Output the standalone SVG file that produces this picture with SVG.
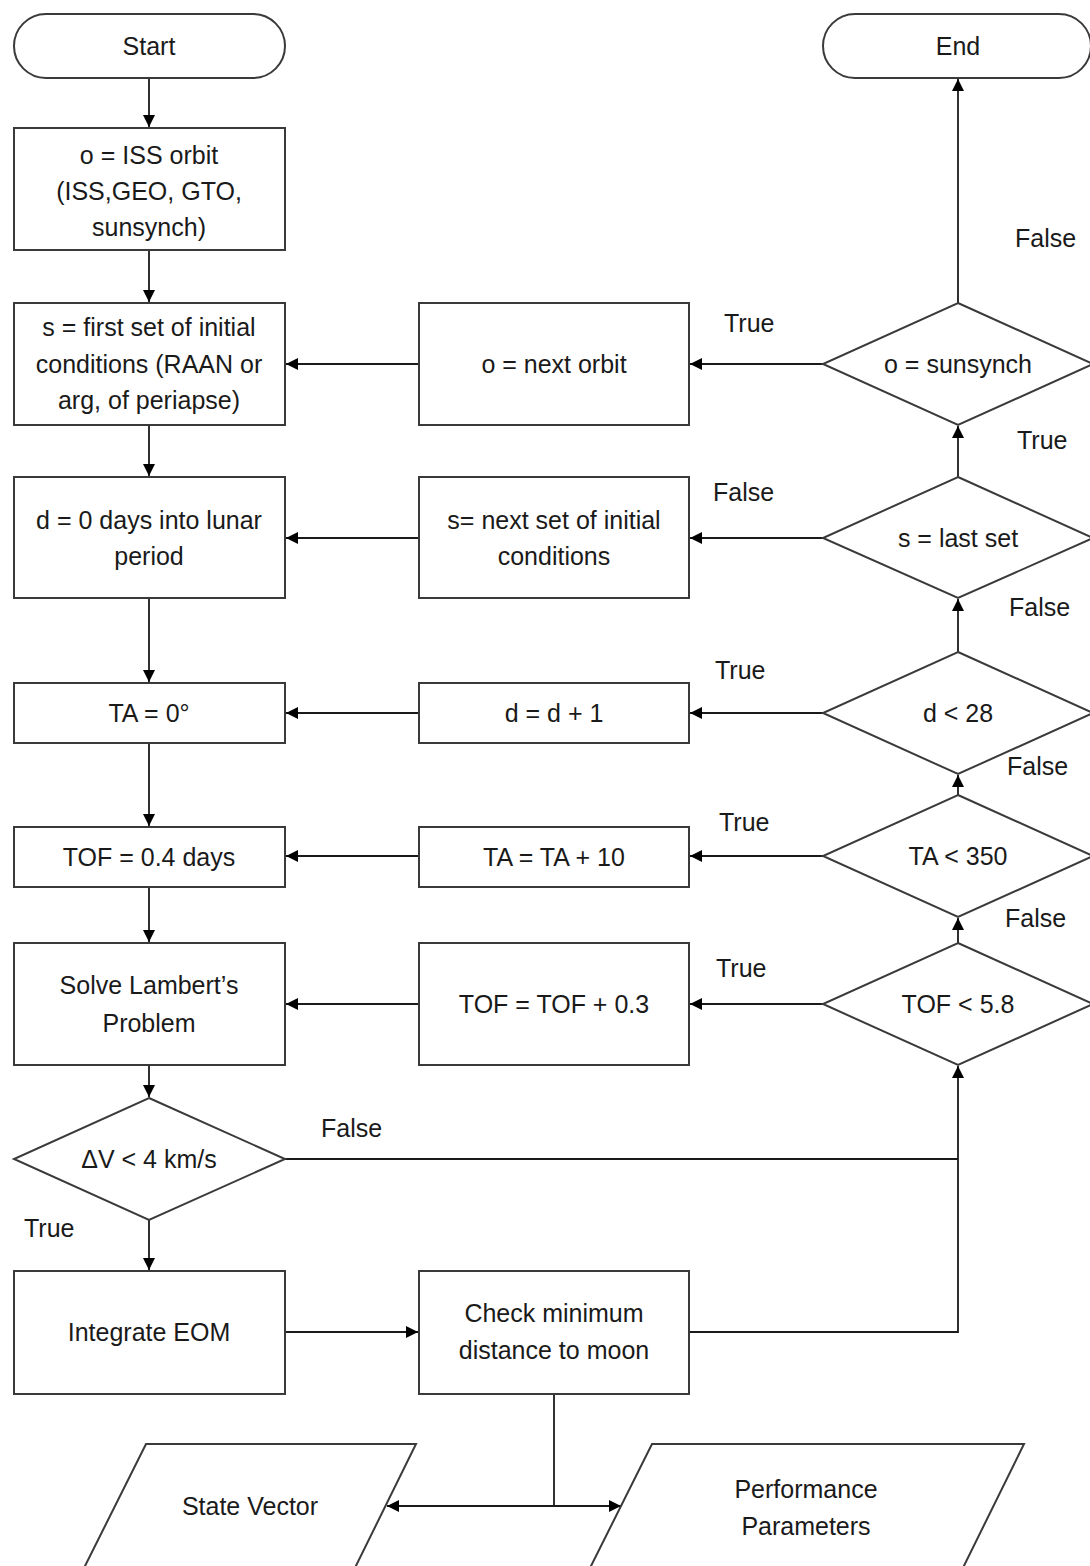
<svg xmlns="http://www.w3.org/2000/svg" width="1090" height="1566" viewBox="0 0 1090 1566">
<style>
  .shape { fill: #ffffff; stroke: #3a3a3a; stroke-width: 2; }
  .t { font-family: "Liberation Sans", Arial, sans-serif; font-size: 25px; fill: #1a1a1a; text-anchor: middle; }
  .lbl { font-family: "Liberation Sans", Arial, sans-serif; font-size: 25px; fill: #1a1a1a; }
  .c { fill: none; stroke: #1a1a1a; stroke-width: 1.8; }
</style>
<defs>
  <marker id="arr" viewBox="0 0 10 10" refX="10" refY="5" markerWidth="13" markerHeight="12" markerUnits="userSpaceOnUse" orient="auto">
    <path d="M0,0 L10,5 L0,10 z" fill="#000"/>
  </marker>
  <marker id="arrs" viewBox="0 0 10 10" refX="0" refY="5" markerWidth="13" markerHeight="12" markerUnits="userSpaceOnUse" orient="auto">
    <path d="M10,0 L0,5 L10,10 z" fill="#000"/>
  </marker>
</defs>
<rect width="1090" height="1566" fill="#ffffff"/>

<g id="connectors">
  <line class="c" x1="149" y1="78" x2="149" y2="127" marker-end="url(#arr)"/>
  <line class="c" x1="149" y1="250" x2="149" y2="302" marker-end="url(#arr)"/>
  <line class="c" x1="149" y1="425" x2="149" y2="476" marker-end="url(#arr)"/>
  <line class="c" x1="149" y1="598" x2="149" y2="682" marker-end="url(#arr)"/>
  <line class="c" x1="149" y1="743" x2="149" y2="826" marker-end="url(#arr)"/>
  <line class="c" x1="149" y1="887" x2="149" y2="942" marker-end="url(#arr)"/>
  <line class="c" x1="149" y1="1065" x2="149" y2="1097" marker-end="url(#arr)"/>
  <line class="c" x1="149" y1="1220" x2="149" y2="1270" marker-end="url(#arr)"/>
  <line class="c" x1="285" y1="1332" x2="418" y2="1332" marker-end="url(#arr)"/>
  <polyline class="c" points="689,1332 958,1332 958,1066" marker-end="url(#arr)"/>
  <line class="c" x1="285" y1="1159" x2="958" y2="1159"/>
  <line class="c" x1="554" y1="1394" x2="554" y2="1506"/>
  <line class="c" x1="387" y1="1506" x2="621" y2="1506" marker-start="url(#arrs)" marker-end="url(#arr)"/>
  <line class="c" x1="823" y1="1004" x2="690" y2="1004" marker-end="url(#arr)"/>
  <line class="c" x1="419" y1="1004" x2="286" y2="1004" marker-end="url(#arr)"/>
  <line class="c" x1="958" y1="943" x2="958" y2="918" marker-end="url(#arr)"/>
  <line class="c" x1="823" y1="856" x2="690" y2="856" marker-end="url(#arr)"/>
  <line class="c" x1="419" y1="856" x2="286" y2="856" marker-end="url(#arr)"/>
  <line class="c" x1="958" y1="795" x2="958" y2="775" marker-end="url(#arr)"/>
  <line class="c" x1="823" y1="713" x2="690" y2="713" marker-end="url(#arr)"/>
  <line class="c" x1="419" y1="713" x2="286" y2="713" marker-end="url(#arr)"/>
  <line class="c" x1="958" y1="652" x2="958" y2="599" marker-end="url(#arr)"/>
  <line class="c" x1="823" y1="538" x2="690" y2="538" marker-end="url(#arr)"/>
  <line class="c" x1="419" y1="538" x2="286" y2="538" marker-end="url(#arr)"/>
  <line class="c" x1="958" y1="477" x2="958" y2="426" marker-end="url(#arr)"/>
  <line class="c" x1="823" y1="364" x2="690" y2="364" marker-end="url(#arr)"/>
  <line class="c" x1="419" y1="364" x2="286" y2="364" marker-end="url(#arr)"/>
  <line class="c" x1="958" y1="303" x2="958" y2="79" marker-end="url(#arr)"/>
</g>

<g id="labels">
  <text class="lbl" x="1015" y="247">False</text>
  <text class="lbl" x="724" y="332">True</text>
  <text class="lbl" x="1017" y="449">True</text>
  <text class="lbl" x="713" y="501">False</text>
  <text class="lbl" x="1009" y="616">False</text>
  <text class="lbl" x="715" y="679">True</text>
  <text class="lbl" x="1007" y="775">False</text>
  <text class="lbl" x="719" y="831">True</text>
  <text class="lbl" x="1005" y="927">False</text>
  <text class="lbl" x="716" y="977">True</text>
  <text class="lbl" x="321" y="1137">False</text>
  <text class="lbl" x="24" y="1237">True</text>
</g>

<g id="start">
  <rect class="shape" x="14" y="14" width="271" height="64" rx="32" ry="32"/>
  <text class="t" x="149" y="55">Start</text>
</g>
<g id="end">
  <rect class="shape" x="823" y="14" width="268" height="64" rx="32" ry="32"/>
  <text class="t" x="958" y="55">End</text>
</g>

<g id="box-orbit">
  <rect class="shape" x="14" y="128" width="271" height="122"/>
  <text class="t" x="149" y="164">o = ISS orbit</text>
  <text class="t" x="149" y="200">(ISS,GEO, GTO,</text>
  <text class="t" x="149" y="236">sunsynch)</text>
</g>
<g id="box-firstset">
  <rect class="shape" x="14" y="303" width="271" height="122"/>
  <text class="t" x="149" y="336">s = first set of initial</text>
  <text class="t" x="149" y="373">conditions (RAAN or</text>
  <text class="t" x="149" y="409">arg, of periapse)</text>
</g>
<g id="box-d0">
  <rect class="shape" x="14" y="477" width="271" height="121"/>
  <text class="t" x="149" y="529">d = 0 days into lunar</text>
  <text class="t" x="149" y="565">period</text>
</g>
<g id="box-ta0">
  <rect class="shape" x="14" y="683" width="271" height="60"/>
  <text class="t" x="149" y="722">TA = 0°</text>
</g>
<g id="box-tof04">
  <rect class="shape" x="14" y="827" width="271" height="60"/>
  <text class="t" x="149" y="866">TOF = 0.4 days</text>
</g>
<g id="box-lambert">
  <rect class="shape" x="14" y="943" width="271" height="122"/>
  <text class="t" x="149" y="994">Solve Lambert’s</text>
  <text class="t" x="149" y="1032">Problem</text>
</g>
<g id="dec-dv">
  <polygon class="shape" points="149,1098 285,1159 149,1220 14,1159"/>
  <text class="t" x="149" y="1168">ΔV &lt; 4 km/s</text>
</g>
<g id="box-integrate">
  <rect class="shape" x="14" y="1271" width="271" height="123"/>
  <text class="t" x="149" y="1341">Integrate EOM</text>
</g>

<g id="box-nextorbit">
  <rect class="shape" x="419" y="303" width="270" height="122"/>
  <text class="t" x="554" y="373">o = next orbit</text>
</g>
<g id="box-nextset">
  <rect class="shape" x="419" y="477" width="270" height="121"/>
  <text class="t" x="554" y="529">s= next set of initial</text>
  <text class="t" x="554" y="565">conditions</text>
</g>
<g id="box-dinc">
  <rect class="shape" x="419" y="683" width="270" height="60"/>
  <text class="t" x="554" y="722">d = d + 1</text>
</g>
<g id="box-tainc">
  <rect class="shape" x="419" y="827" width="270" height="60"/>
  <text class="t" x="554" y="866">TA = TA + 10</text>
</g>
<g id="box-tofinc">
  <rect class="shape" x="419" y="943" width="270" height="122"/>
  <text class="t" x="554" y="1013">TOF = TOF + 0.3</text>
</g>
<g id="box-check">
  <rect class="shape" x="419" y="1271" width="270" height="123"/>
  <text class="t" x="554" y="1322">Check minimum</text>
  <text class="t" x="554" y="1359">distance to moon</text>
</g>

<g id="dec-sunsynch">
  <polygon class="shape" points="958,303 1093,364 958,425 823,364"/>
  <text class="t" x="958" y="373">o = sunsynch</text>
</g>
<g id="dec-lastset">
  <polygon class="shape" points="958,477 1093,538 958,598 823,538"/>
  <text class="t" x="958" y="547">s = last set</text>
</g>
<g id="dec-d28">
  <polygon class="shape" points="958,652 1093,713 958,774 823,713"/>
  <text class="t" x="958" y="722">d &lt; 28</text>
</g>
<g id="dec-ta350">
  <polygon class="shape" points="958,795 1093,856 958,917 823,856"/>
  <text class="t" x="958" y="865">TA &lt; 350</text>
</g>
<g id="dec-tof58">
  <polygon class="shape" points="958,943 1093,1004 958,1065 823,1004"/>
  <text class="t" x="958" y="1013">TOF &lt; 5.8</text>
</g>

<g id="out-state">
  <polygon class="shape" points="146,1444 416,1444 348,1582 77,1582"/>
  <text class="t" x="250" y="1515">State Vector</text>
</g>
<g id="out-perf">
  <polygon class="shape" points="652,1444 1024,1444 956,1582 583,1582"/>
  <text class="t" x="806" y="1498">Performance</text>
  <text class="t" x="806" y="1535">Parameters</text>
</g>
</svg>
